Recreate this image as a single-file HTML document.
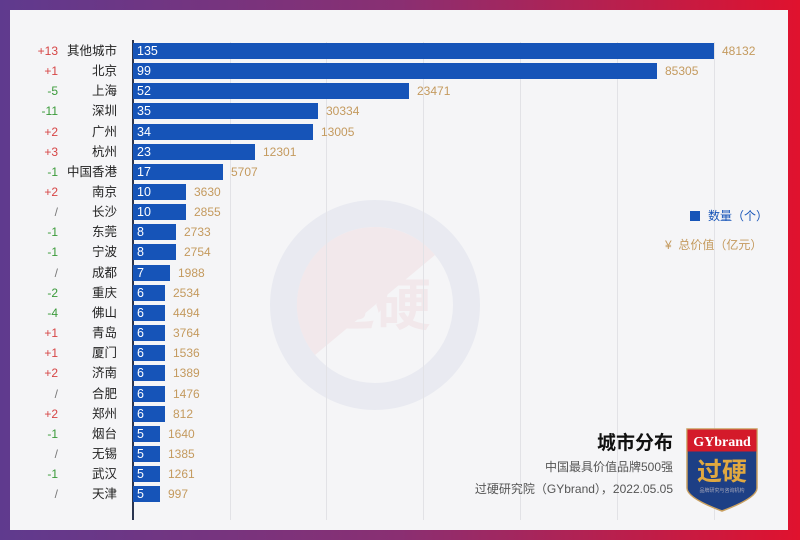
<!DOCTYPE html>
<html><head><meta charset="utf-8"><style>
*{margin:0;padding:0;box-sizing:border-box}
body{width:800px;height:540px;overflow:hidden;position:relative;font-family:"Liberation Sans","Noto Sans CJK SC",sans-serif;
background:linear-gradient(90deg,#5f3a8e 0%,#8a2f72 50%,#e0122e 100%);}
#card{position:absolute;left:10px;top:10px;width:778px;height:520px;background:#f5f5f7;overflow:hidden}
.g{position:absolute;top:32px;height:478px;width:1px;background:#e2e2e6}
.ax{position:absolute;left:122px;top:30px;height:480px;width:1.5px;background:#2a3550}
.r{position:absolute;left:0;height:16px;width:778px}
.c{position:absolute;right:730px;font-size:12px;line-height:16px}
.n{position:absolute;right:671px;font-size:12.5px;line-height:16px;color:#222}
.b{position:absolute;left:123px;height:16px;background:#1654b8;color:#fff;font-size:12.5px;line-height:16px;padding-left:4px}
.v{position:absolute;font-size:12px;line-height:16px;color:#c49a5e}
.p{color:#d64545}.m{color:#3a9a3a}.s{color:#777}
</style></head><body>
<div id="card">
<svg style="position:absolute;left:255px;top:185px;opacity:.05" width="220" height="220" viewBox="0 0 220 220">
<circle cx="110" cy="110" r="105" fill="#1a3c8a"/><circle cx="110" cy="110" r="78" fill="#fff"/>
<path d="M110 32 A78 78 0 0 0 50 160 L170 60 A78 78 0 0 0 110 32Z" fill="#c01020"/>
<text x="110" y="130" text-anchor="middle" font-size="56" font-weight="bold" fill="#c01020" font-family="Noto Sans CJK SC">过硬</text>
</svg>
<div class="g" style="left:220px"></div><div class="g" style="left:316px"></div><div class="g" style="left:413px"></div><div class="g" style="left:510px"></div><div class="g" style="left:607px"></div><div class="g" style="left:704px"></div>
<div class="ax"></div>

<div class="r" style="top:33px"><span class="c p">+13</span><span class="n">其他城市</span><div class="b" style="width:581px">135</div><span class="v" style="left:712px">48132</span></div>
<div class="r" style="top:53px"><span class="c p">+1</span><span class="n">北京</span><div class="b" style="width:524px">99</div><span class="v" style="left:655px">85305</span></div>
<div class="r" style="top:73px"><span class="c m">-5</span><span class="n">上海</span><div class="b" style="width:276px">52</div><span class="v" style="left:407px">23471</span></div>
<div class="r" style="top:93px"><span class="c m">-11</span><span class="n">深圳</span><div class="b" style="width:185px">35</div><span class="v" style="left:316px">30334</span></div>
<div class="r" style="top:114px"><span class="c p">+2</span><span class="n">广州</span><div class="b" style="width:180px">34</div><span class="v" style="left:311px">13005</span></div>
<div class="r" style="top:134px"><span class="c p">+3</span><span class="n">杭州</span><div class="b" style="width:122px">23</div><span class="v" style="left:253px">12301</span></div>
<div class="r" style="top:154px"><span class="c m">-1</span><span class="n">中国香港</span><div class="b" style="width:90px">17</div><span class="v" style="left:221px">5707</span></div>
<div class="r" style="top:174px"><span class="c p">+2</span><span class="n">南京</span><div class="b" style="width:53px">10</div><span class="v" style="left:184px">3630</span></div>
<div class="r" style="top:194px"><span class="c s">/</span><span class="n">长沙</span><div class="b" style="width:53px">10</div><span class="v" style="left:184px">2855</span></div>
<div class="r" style="top:214px"><span class="c m">-1</span><span class="n">东莞</span><div class="b" style="width:43px">8</div><span class="v" style="left:174px">2733</span></div>
<div class="r" style="top:234px"><span class="c m">-1</span><span class="n">宁波</span><div class="b" style="width:43px">8</div><span class="v" style="left:174px">2754</span></div>
<div class="r" style="top:255px"><span class="c s">/</span><span class="n">成都</span><div class="b" style="width:37px">7</div><span class="v" style="left:168px">1988</span></div>
<div class="r" style="top:275px"><span class="c m">-2</span><span class="n">重庆</span><div class="b" style="width:32px">6</div><span class="v" style="left:163px">2534</span></div>
<div class="r" style="top:295px"><span class="c m">-4</span><span class="n">佛山</span><div class="b" style="width:32px">6</div><span class="v" style="left:163px">4494</span></div>
<div class="r" style="top:315px"><span class="c p">+1</span><span class="n">青岛</span><div class="b" style="width:32px">6</div><span class="v" style="left:163px">3764</span></div>
<div class="r" style="top:335px"><span class="c p">+1</span><span class="n">厦门</span><div class="b" style="width:32px">6</div><span class="v" style="left:163px">1536</span></div>
<div class="r" style="top:355px"><span class="c p">+2</span><span class="n">济南</span><div class="b" style="width:32px">6</div><span class="v" style="left:163px">1389</span></div>
<div class="r" style="top:376px"><span class="c s">/</span><span class="n">合肥</span><div class="b" style="width:32px">6</div><span class="v" style="left:163px">1476</span></div>
<div class="r" style="top:396px"><span class="c p">+2</span><span class="n">郑州</span><div class="b" style="width:32px">6</div><span class="v" style="left:163px">812</span></div>
<div class="r" style="top:416px"><span class="c m">-1</span><span class="n">烟台</span><div class="b" style="width:27px">5</div><span class="v" style="left:158px">1640</span></div>
<div class="r" style="top:436px"><span class="c s">/</span><span class="n">无锡</span><div class="b" style="width:27px">5</div><span class="v" style="left:158px">1385</span></div>
<div class="r" style="top:456px"><span class="c m">-1</span><span class="n">武汉</span><div class="b" style="width:27px">5</div><span class="v" style="left:158px">1261</span></div>
<div class="r" style="top:476px"><span class="c s">/</span><span class="n">天津</span><div class="b" style="width:27px">5</div><span class="v" style="left:158px">997</span></div>

<div style="position:absolute;left:680px;top:201px;width:10px;height:10px;background:#1654b8"></div>
<div style="position:absolute;left:698px;top:197px;font-size:12px;color:#1654b8">数量（个）</div>
<div style="position:absolute;left:655px;top:226px;font-size:12px;color:#c49a5e">¥&nbsp; 总价值（亿元）</div>

<div style="position:absolute;right:115px;top:418px;font-size:19px;font-weight:bold;color:#111">城市分布</div>
<div style="position:absolute;right:115px;top:448px;font-size:12px;color:#555">中国最具价值品牌500强</div>
<div style="position:absolute;right:115px;top:470px;font-size:12px;color:#555">过硬研究院（GYbrand），2022.05.05</div>

<svg style="position:absolute;left:676px;top:418px" width="72" height="84" viewBox="0 0 72 84">
<path d="M1 1 H71 V60 Q71 70 36 83 Q1 70 1 60 Z" fill="#1d3f85" stroke="#c9a060" stroke-width="1.5"/>
<rect x="1.5" y="1.5" width="69" height="22" fill="#d41a2a"/>
<text x="36" y="18" text-anchor="middle" font-size="14" font-weight="bold" fill="#fff" font-family="Liberation Serif">GYbrand</text>
<text x="36" y="52" text-anchor="middle" font-size="25" font-weight="bold" fill="#e0a840" font-family="Noto Sans CJK SC">过硬</text>
<text x="36" y="64" text-anchor="middle" font-size="5" fill="#aab" font-family="Noto Sans CJK SC">品牌研究与咨询机构</text>
</svg>
</div>
</body></html>
